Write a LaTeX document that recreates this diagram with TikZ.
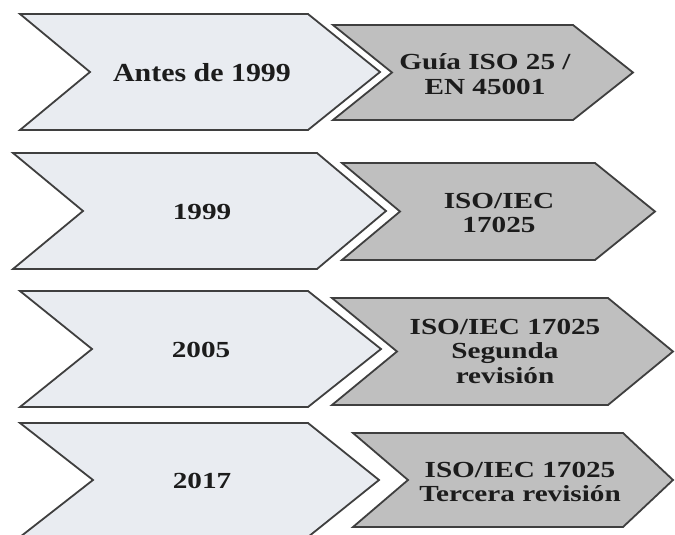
\documentclass[tikz,border=0pt]{standalone}
\usepackage{fontspec}
\setmainfont{Liberation Serif}
\newfontfamily\widefont[FakeStretch=1.27]{Liberation Serif}
\newfontfamily\headfont[FakeStretch=1.15]{Liberation Serif}
\definecolor{paleband}{HTML}{E9ECF1}
\definecolor{greyband}{HTML}{BFBFBF}
\definecolor{edgegrey}{HTML}{3F3F3F}
\definecolor{inkdark}{HTML}{1C1C1C}
\tikzset{
  palechev/.style={fill=paleband, draw=edgegrey, line width=1.8pt, line join=miter},
  greychev/.style={fill=greyband, draw=edgegrey, line width=1.8pt, line join=miter},
  label/.style={text=inkdark, align=center, inner sep=0pt,
    font=\widefont\bfseries\fontsize{23}{24.5}\selectfont},
}
% chevron: left, top, bottom, notch x, top-right x, tip x
\newcommand{\chev}[7]{%
  \draw[#1] (#2,#3) -- (#6,#3) -- (#7,{(#3+#4)/2}) -- (#6,#4) -- (#2,#4)
    -- (#5,{(#3+#4)/2}) -- cycle;}
\begin{document}
\begin{tikzpicture}[x=1pt,y=-1pt]
\useasboundingbox[fill=white] (0,0) rectangle (675,535);

% left column: periods
\chev{palechev}{20}{14}{130}{90}{308}{380}
\chev{palechev}{13}{153}{269}{83}{317}{386}
\chev{palechev}{20}{291}{407}{92}{308}{381}
\chev{palechev}{20}{423}{537}{93}{308}{379}

% right column: documents
\chev{greychev}{333}{25}{120}{392}{573}{633}
\chev{greychev}{342}{163}{260}{400}{595}{655}
\chev{greychev}{332}{298}{405}{397}{608}{673}
\chev{greychev}{353}{433}{527}{408}{623}{673}

% period labels
\node[label, font=\headfont\bfseries\fontsize{26}{28}\selectfont] (p1) at (202,73) {Antes de 1999};
\node[label] (p2) at (202,212) {1999};
\node[label] (p3) at (201,350) {2005};
\node[label] (p4) at (202,481) {2017};

% document labels
\node[label] (d1) at (485,74) {Guía ISO 25 /\\EN 45001};
\node[label] (d2) at (499,213) {ISO/IEC\\17025};
\node[label] (d3) at (505,351) {ISO/IEC 17025\\Segunda\\revisión};
\node[label] (d4) at (520,482) {ISO/IEC 17025\\Tercera revisión};
\end{tikzpicture}
\end{document}
